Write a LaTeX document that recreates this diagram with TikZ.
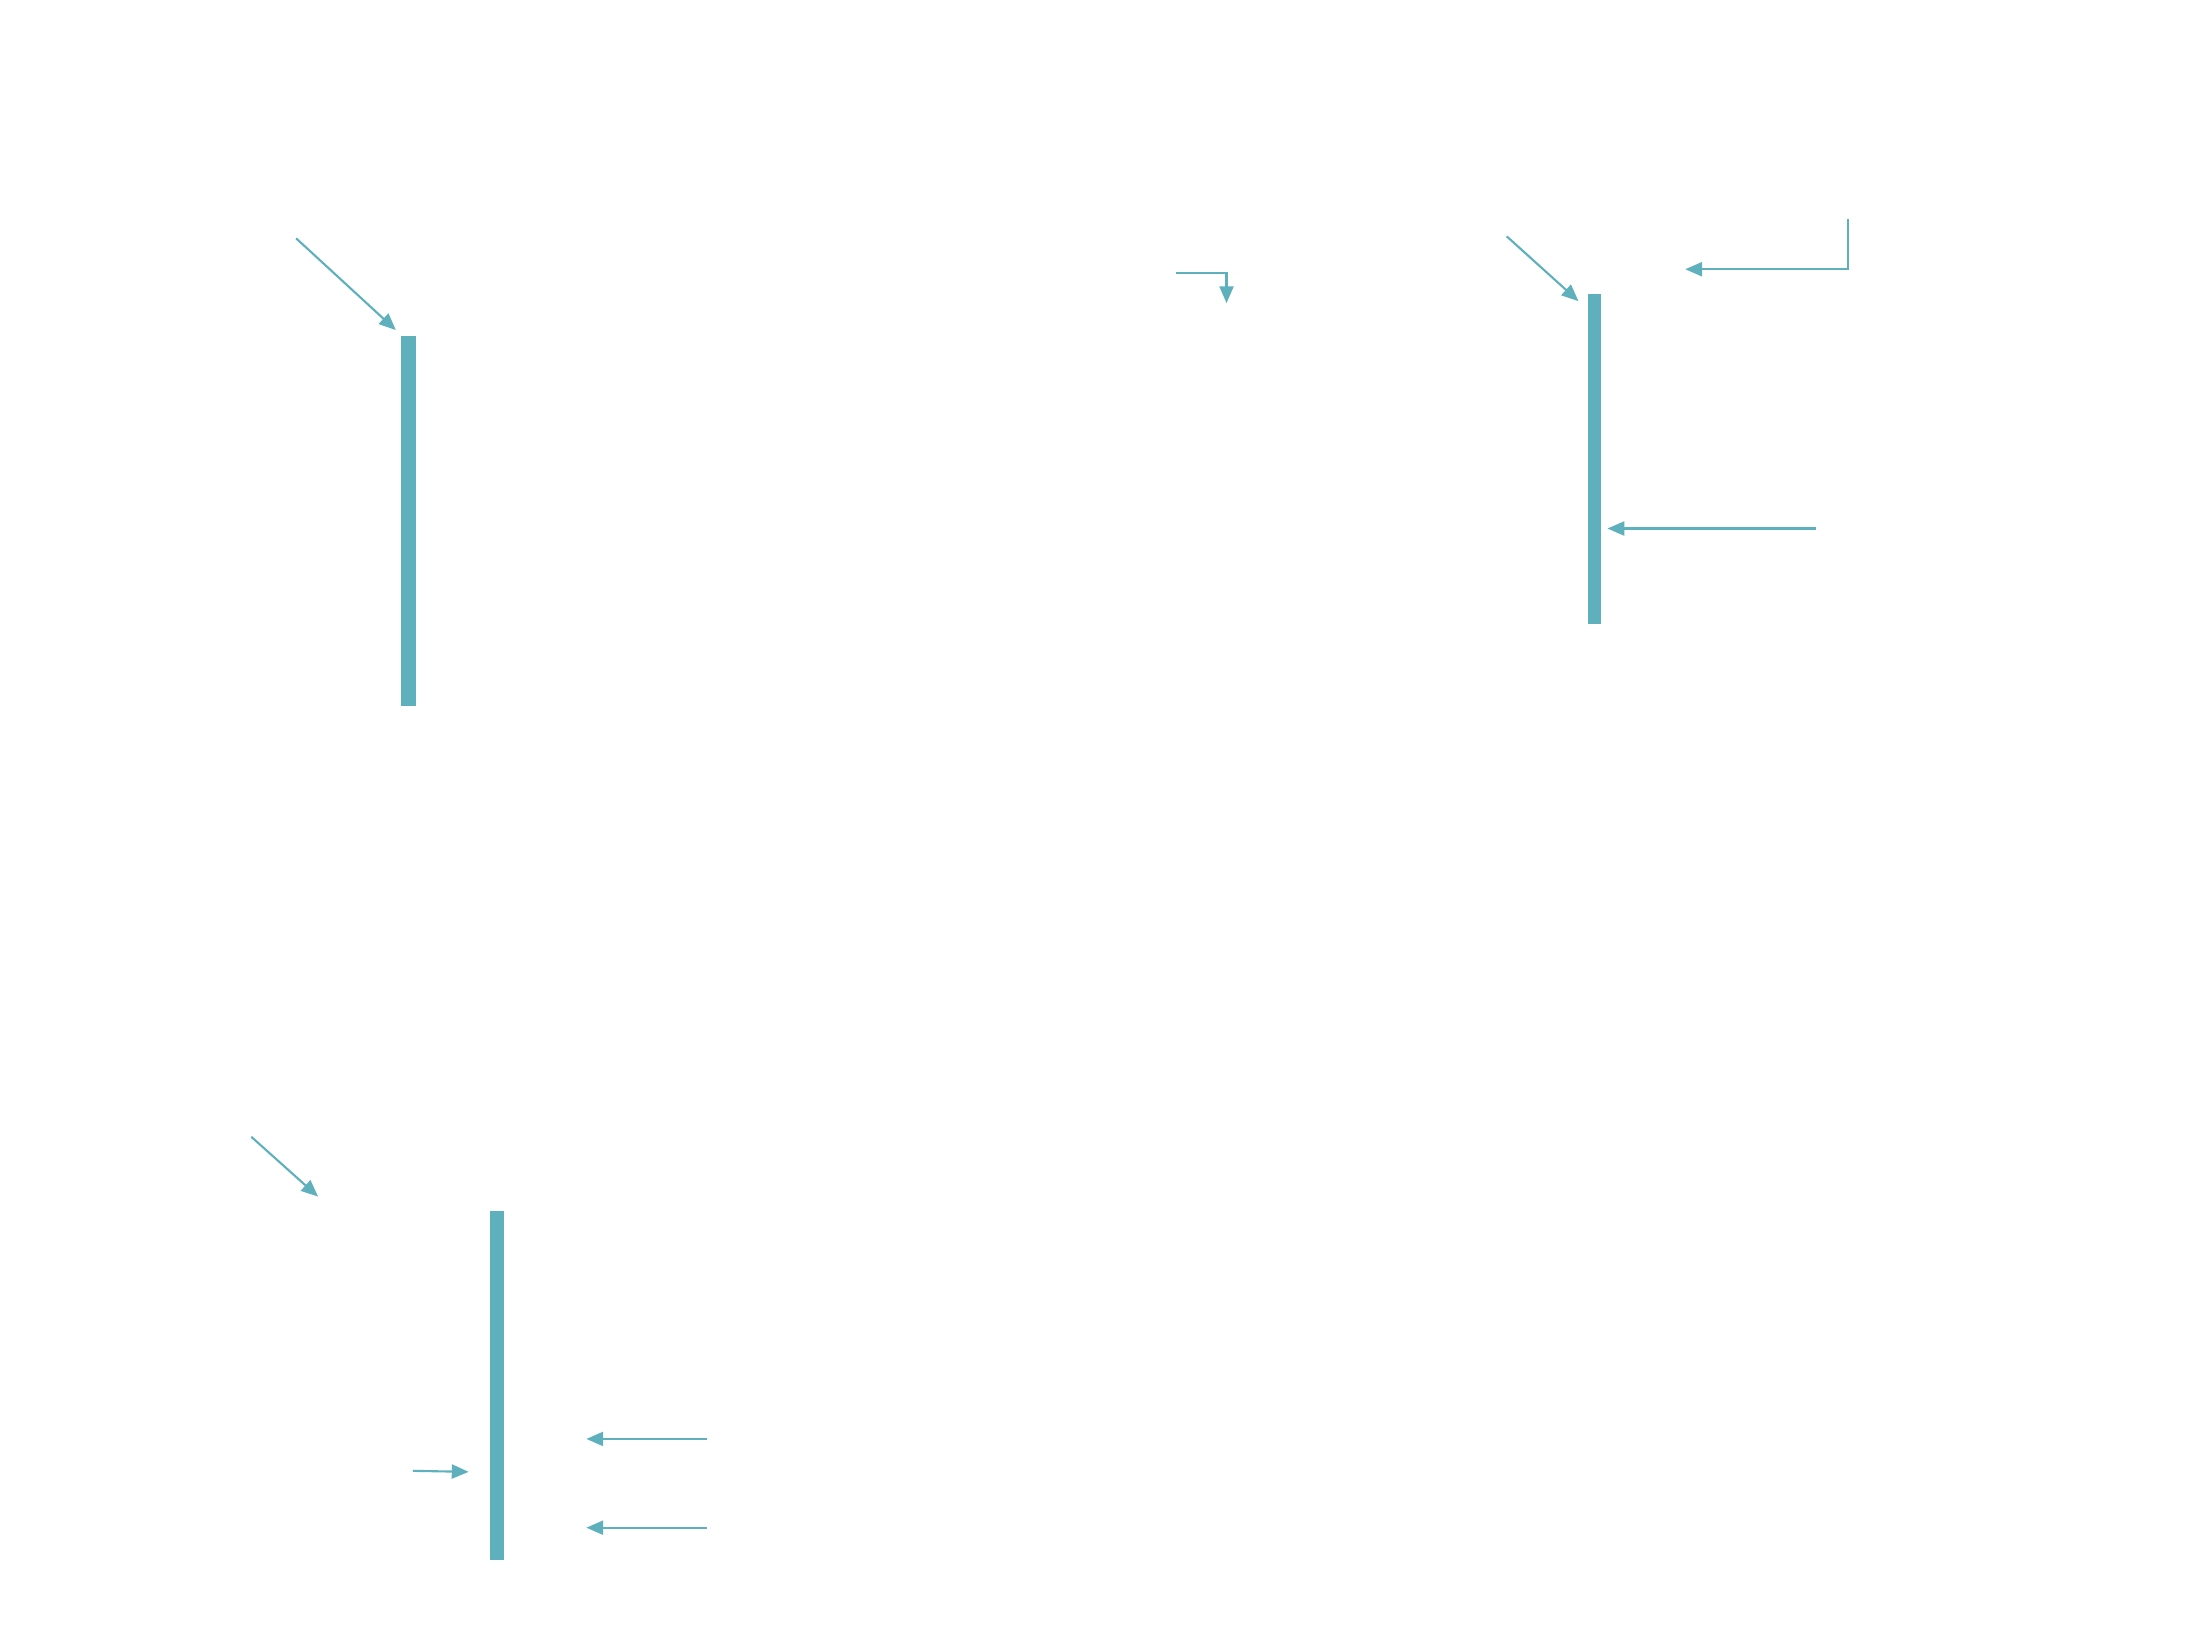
\documentclass[tikz,border=0pt]{standalone}
\usetikzlibrary{arrows.meta}
\definecolor{teal1}{HTML}{5EB0BD}
\begin{document}
\begin{tikzpicture}[x=0.01cm,y=-0.01cm,
  bar/.style={fill=teal1,draw=none,inner sep=0pt,outer sep=0pt,anchor=north west},
  conn/.style={draw=teal1,line width=0.6pt,-{Triangle[length=4.8pt,width=4pt]}}]
\useasboundingbox (0,0) rectangle (2200,1626);
\begin{scope}[scale=0.9972,transform shape]
% bars
\node[bar,minimum width=0.15cm,minimum height=3.71cm] (bar1) at (402,337) {};
\node[bar,minimum width=0.13cm,minimum height=3.31cm] (bar2) at (1592,295) {};
\node[bar,minimum width=0.14cm,minimum height=3.50cm] (bar3) at (491,1214) {};
% endpoints
\coordinate (a1s) at (297,239); \coordinate (a1e) at (397,331);
\coordinate (a2s) at (1511,237); \coordinate (a2e) at (1583,302);
\coordinate (a3s) at (252,1140); \coordinate (a3e) at (319,1200);
\coordinate (e1s) at (1179,274); \coordinate (e1c) at (1230,274); \coordinate (e1e) at (1230,304);
\coordinate (e2s) at (1853,220); \coordinate (e2c) at (1853,270); \coordinate (e2e) at (1690,270);
\coordinate (h1s) at (1821,530); \coordinate (h1e) at (1612,530);
\coordinate (r1s) at (414,1475); \coordinate (r1e) at (470,1476);
\coordinate (l1s) at (709,1443); \coordinate (l1e) at (588,1443);
\coordinate (l2s) at (709,1532); \coordinate (l2e) at (588,1532);
% connectors
\draw[conn] (a1s) -- (a1e);
\draw[conn] (a2s) -- (a2e);
\draw[conn] (a3s) -- (a3e);
\draw[conn] (e1s) -- (e1c) -- (e1e);
\draw[conn] (e2s) -- (e2c) -- (e2e);
\draw[conn] (h1s) -- (h1e);
\draw[conn] (r1s) -- (r1e);
\draw[conn] (l1s) -- (l1e);
\draw[conn] (l2s) -- (l2e);
\end{scope}
\end{tikzpicture}
\end{document}
